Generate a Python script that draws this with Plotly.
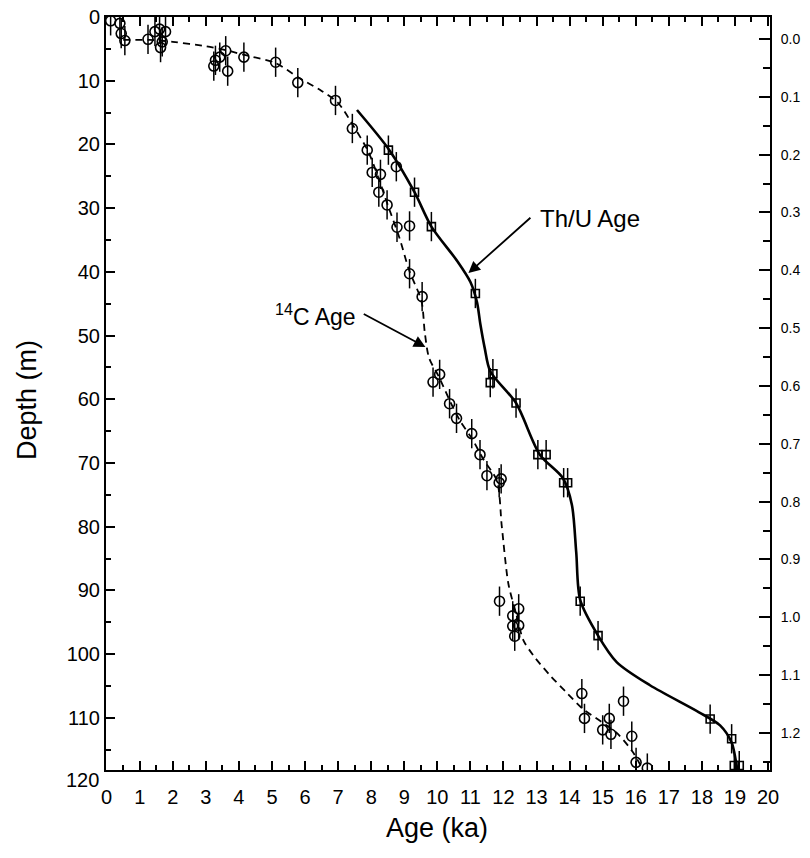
import plotly.graph_objects as go

# ---- data ----
# 14C ages (ka) and depths (m) -- open circles
c14_age = [0.12, 0.40, 0.44, 0.55, 1.25, 1.46, 1.60, 1.78, 1.68, 1.63,
           3.24, 3.29, 3.42, 3.60, 3.66, 4.15, 5.11, 5.78, 6.92, 7.43,
           7.88, 8.03, 8.28, 8.23, 8.76, 8.48, 8.78, 9.16, 9.16, 9.54,
           10.07, 9.87, 10.37, 10.58, 11.04, 11.29, 11.50, 11.93, 11.87,
           11.88, 12.28, 12.46, 12.28, 12.46, 12.34,
           14.37, 14.45, 15.00, 15.20, 15.25, 15.63, 15.88, 16.01, 16.35]
c14_depth = [0.6, 1.0, 2.6, 3.7, 3.5, 2.3, 1.9, 2.3, 3.9, 4.8,
             7.7, 6.8, 6.3, 5.3, 8.5, 6.3, 7.1, 10.3, 13.1, 17.5,
             20.9, 24.4, 24.7, 27.5, 23.5, 29.5, 33.0, 32.8, 40.3, 43.9,
             56.1, 57.3, 60.7, 63.0, 65.4, 68.7, 72.0, 72.5, 73.1,
             91.7, 94.0, 92.9, 95.6, 95.5, 97.2,
             106.2, 110.1, 111.9, 110.1, 112.6, 107.4, 112.9, 117.0, 117.9]

# Th/U ages (ka) and depths (m) -- open squares
thu_age = [8.52, 9.31, 9.82, 11.15, 11.68, 11.60, 12.38, 13.04, 13.29,
           13.82, 13.94, 14.32, 14.86, 18.25, 18.90, 18.98, 19.13]
thu_depth = [20.9, 27.5, 32.9, 43.4, 56.0, 57.4, 60.6, 68.7, 68.7,
             73.1, 73.1, 91.7, 97.1, 110.2, 113.3, 117.5, 117.5]

depth_err = 2.3  # half-length of vertical bars (m)

# fitted curves
c14_curve_age = [0.5, 1.3, 2.0, 3.0, 3.6, 4.2, 5.1, 5.8, 6.5, 7.0, 7.45, 7.9,
                 8.2, 8.5, 8.85, 9.15, 9.52, 9.62, 9.75, 10.05, 10.4, 10.7,
                 11.05, 11.4, 11.8, 11.95, 12.15, 12.4, 12.6, 12.9, 13.4,
                 13.9, 14.4, 14.95, 15.45, 15.9, 16.15]
c14_curve_depth = [3.6, 3.6, 3.9, 4.6, 5.2, 6.0, 7.2, 9.5, 11.6, 13.5, 17.0, 21.0,
                   25.0, 29.5, 34.6, 39.8, 44.6, 49.5, 53.5, 56.5, 60.5, 63.5,
                   66.2, 69.5, 72.8, 80.0, 89.0, 94.0, 97.8, 100.2, 103.3,
                   106.0, 108.6, 110.6, 112.5, 115.3, 117.5]

thu_curve_age = [7.57, 8.55, 9.31, 9.82, 10.6, 11.0, 11.2, 11.3, 11.43, 11.6,
                 12.38, 13.1, 13.8, 14.07, 14.2, 14.32, 14.86, 15.43, 16.43,
                 17.9, 18.55, 18.9, 19.05, 19.08]
thu_curve_depth = [14.6, 20.9, 27.5, 32.9, 38.3, 41.6, 44.8, 48.2, 51.9, 55.6,
                   60.6, 68.7, 72.4, 76.6, 84.0, 91.5, 97.1, 101.3, 104.9,
                   109.1, 111.2, 113.9, 117.5, 118.5]

x_ticks = list(range(0, 21))
y_ticks = list(range(0, 111, 10))
y2_ticks = [round(0.1 * i, 1) for i in range(13)]

# ---- figure ----
fig = go.Figure()

fig.add_trace(go.Scatter(x=c14_curve_age, y=c14_curve_depth, mode="lines",
                         line=dict(color="black", width=1.8, dash="7px,5px",
                                   shape="spline", smoothing=0.8),
                         showlegend=False, hoverinfo="skip"))
fig.add_trace(go.Scatter(x=thu_curve_age, y=thu_curve_depth, mode="lines",
                         line=dict(color="black", width=2.6, shape="spline",
                                   smoothing=0.8),
                         showlegend=False, hoverinfo="skip"))

fig.add_trace(go.Scatter(x=c14_age, y=c14_depth, mode="markers",
                         marker=dict(symbol="circle-open", size=10, color="black",
                                     line=dict(width=1.6, color="black")),
                         error_y=dict(type="constant", value=depth_err, width=0,
                                      thickness=1.5, color="black"),
                         showlegend=False))
fig.add_trace(go.Scatter(x=thu_age, y=thu_depth, mode="markers",
                         marker=dict(symbol="square-open", size=8, color="black",
                                     line=dict(width=1.6, color="black")),
                         error_y=dict(type="constant", value=depth_err, width=0,
                                      thickness=1.5, color="black"),
                         showlegend=False))
# dummy trace to activate the right-hand axis
fig.add_trace(go.Scatter(x=[None], y=[None], yaxis="y2", showlegend=False,
                         hoverinfo="skip"))

tick_font = dict(family="Liberation Sans Narrow, Liberation Sans, Arial", size=20,
                 color="black")

# page has an 8px body margin: plot area in page px spans x 106..770, y 17..770
fig.update_layout(
    width=802, height=836,
    margin=dict(l=98, r=40, t=9, b=74, autoexpand=False),
    paper_bgcolor="white", plot_bgcolor="white",
    xaxis=dict(range=[-0.02, 20.06], tickvals=x_ticks, ticks="inside",
               ticklen=9, tickwidth=1.8, tickcolor="black",
               minor=dict(dtick=0.5, tick0=0, ticks="inside", ticklen=5,
                          tickwidth=1.5, tickcolor="black"),
               showline=True, linewidth=2, linecolor="black", mirror="ticks",
               showgrid=False, zeroline=False, tickfont=tick_font,
               ticklabelstandoff=8, ticklabeloverflow="allow", automargin=False),
    yaxis=dict(range=[118.2, 0], tickvals=y_ticks, ticks="inside",
               ticklen=9, tickwidth=1.8, tickcolor="black",
               minor=dict(dtick=5, tick0=0, ticks="inside", ticklen=5,
                          tickwidth=1.5, tickcolor="black"),
               showline=True, linewidth=2, linecolor="black", mirror=True,
               showgrid=False, zeroline=False, tickfont=tick_font,
               ticklabeloverflow="allow", automargin=False),
    yaxis2=dict(overlaying="y", side="right", range=[1.264, -0.038],
                tickvals=y2_ticks, tickformat=".1f", ticks="inside",
                ticklen=11, tickwidth=1.8, tickcolor="black",
                ticklabelstandoff=6, ticklabeloverflow="allow", automargin=False,
                minor=dict(dtick=0.05, tick0=0, ticks="inside", ticklen=7,
                           tickwidth=1.5, tickcolor="black"),
                showline=True, linewidth=2, linecolor="black",
                showgrid=False, zeroline=False,
                tickfont=dict(family="Liberation Sans, Arial", size=14,
                              color="black")),
    font=dict(family="Liberation Sans, Arial", color="black"),
)

ann_font = dict(family="Liberation Sans, Arial", size=24, color="black")
fig.add_annotation(x=13.05, y=31.6, xref="x", yref="y", text="Th/U Age",
                   showarrow=False, xanchor="left", yanchor="middle", font=ann_font)
fig.add_annotation(x=10.94, y=40.2, ax=12.86, ay=31.3, xref="x", yref="y",
                   axref="x", ayref="y", text="", showarrow=True, arrowhead=2,
                   arrowsize=1.3, arrowwidth=1.8, arrowcolor="black")
fig.add_annotation(x=7.61, y=46.8, xref="x", yref="y",
                   text="<sup>14</sup>C Age", showarrow=False, xanchor="right",
                   yanchor="middle",
                   font=dict(family="Liberation Sans, Arial", size=23, color="black"))
fig.add_annotation(x=9.64, y=51.8, ax=7.73, ay=46.5, xref="x", yref="y",
                   axref="x", ayref="y", text="", showarrow=True, arrowhead=2,
                   arrowsize=1.3, arrowwidth=1.8, arrowcolor="black")

# axis titles and the bottom-left "120" label (positions in page px)
PW, PH, PX0, PY0 = 664, 753, 106, 17
fig.add_annotation(text="Depth (m)", xref="paper", yref="paper",
                   x=(27 - PX0) / PW, y=1 - (400 - PY0) / PH,
                   xanchor="center", yanchor="middle", showarrow=False,
                   textangle=-90,
                   font=dict(family="Liberation Sans, Arial", size=27, color="black"))
fig.add_annotation(text="Age (ka)", xref="paper", yref="paper",
                   x=(437 - PX0) / PW, y=1 - (828 - PY0) / PH,
                   xanchor="center", yanchor="middle", showarrow=False,
                   font=dict(family="Liberation Sans, Arial", size=27, color="black"))
fig.add_annotation(text="120", xref="paper", yref="paper",
                   x=(82 - PX0) / PW, y=1 - (780 - PY0) / PH,
                   xanchor="center", yanchor="middle", showarrow=False,
                   font=tick_font)

fig.write_html("out.html")
